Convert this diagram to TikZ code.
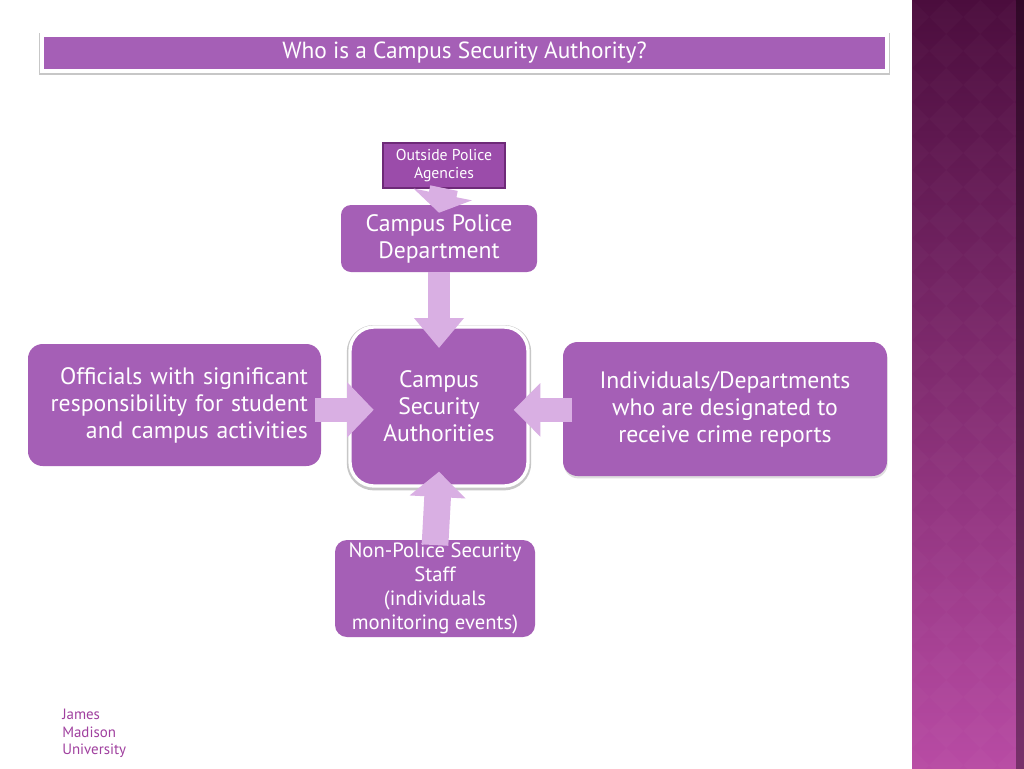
\documentclass[tikz,border=0pt]{standalone}
\usepackage{fontspec}
\setmainfont{PT Sans}
\usetikzlibrary{positioning}
\usetikzlibrary{shadows}
\usetikzlibrary{arrows.meta}
\definecolor{BoxPurple}{HTML}{A55FB6}
\definecolor{DarkPurple}{HTML}{9B4CAA}
\definecolor{EdgePurple}{HTML}{6E2A78}
\definecolor{ArrowLilac}{HTML}{D9AFE3}
\definecolor{PanelTop}{HTML}{4B0D3D}
\definecolor{PanelBottom}{HTML}{B84BA4}
\definecolor{LogoPurple}{HTML}{A0409F}
\tikzset{
	box/.style={fill=BoxPurple, text=white, align=center, inner sep=2pt,
		font=\fontsize{17.8}{20.25}\selectfont},
	halo/.style={preaction={draw=black!22, line width=4.8pt, transform canvas={yshift=-0.9pt}}},
	bigarrow/.style={ArrowLilac, line width=#1},
	bigarrow/.default=17pt
}

\begin{document}
\begin{tikzpicture}[x=0.75pt, y=-0.75pt]
	\useasboundingbox (0,0) rectangle (1024,768);
	\fill [white] (0,0) rectangle (1024,768);
	
	% side panel
	\shade [top color=PanelTop, bottom color=PanelBottom] (912,0) rectangle (1024,768);
	\begin{scope}
		\clip (912,0) rectangle (1016,768);
		\foreach \i in {0,...,3} {
			\foreach \j in {0,...,23} {
				\fill [white, opacity=0.018] (912+\i*34,\j*34) -- ++(17,17) -- ++(-17,17) -- ++(-17,-17) -- cycle;
			}
		}
	\end{scope}
	\shade [left color=PanelBottom!0!black, right color=black, opacity=0.35] (1016,0) rectangle (1024,768);
	
	% title
	\node [fill=BoxPurple, halo, draw=white, line width=2.5pt, text=white,
		minimum width=633.75pt, minimum height=27pt, font=\fontsize{17.5}{20}\selectfont]
		(title) at (464.5,53) {Who is a Campus Security Authority?};
	
	% boxes
	\node [fill=DarkPurple, draw=EdgePurple, line width=2.2pt, text=white, align=center,
		minimum width=91.5pt, minimum height=33.75pt, inner sep=1pt,
		font=\fontsize{11.8}{13.5}\selectfont]
		(outside) at (444,165.5) {Outside Police\\Agencies};
	\node [box, rounded corners=7.5pt, minimum width=147pt, minimum height=50.25pt]
		(police) at (439,238.5) {Campus Police\\Department};
	\node [box, halo, rounded corners=18pt, draw=white, line width=2.5pt,
		minimum width=133.5pt, minimum height=119.25pt]
		(csa) at (439,406.5) {Campus\\Security\\Authorities};
	\node [box, rounded corners=11pt, minimum width=219.75pt, minimum height=91.5pt,
		text width=200pt, align=right]
		(officials) at (174.5,405) {Officials with significant\\responsibility for student\\and campus activities};
	\node [box, rounded corners=11pt, drop shadow={opacity=0.25, shadow xshift=0.5pt, shadow yshift=-1.8pt},
		minimum width=243pt, minimum height=100.5pt]
		(designated) at (725,409) {Individuals/Departments\\who are designated to\\receive crime reports};
	\node [box, rounded corners=9pt, minimum width=150pt, minimum height=72.75pt,
		font=\fontsize{15.5}{18}\selectfont]
		(staff) at (435,588.5) {Non-Police Security\\Staff\\(individuals\\monitoring events)};
	
	% arrows
	\draw [bigarrow=21pt, -{Triangle[length=14pt, width=44pt]}]
		([yshift=1pt]outside.south) -- ([yshift=-6pt]police.north);
	\draw [bigarrow=16.5pt, -{Triangle[length=22.5pt, width=36pt]}]
		(police.south) -- ([yshift=-17pt]csa.north);
	\draw [bigarrow=18pt, -{Triangle[length=20pt, width=40.5pt]}]
		([xshift=-4.5pt,yshift=-2.5pt]officials.east |- csa.center) -- ([xshift=19pt,yshift=-2.5pt]csa.west);
	\draw [bigarrow=18pt, -{Triangle[length=20pt, width=39pt]}]
		([xshift=7pt,yshift=-2.5pt]designated.west |- csa.center) -- ([xshift=-12pt,yshift=-2.5pt]csa.east);
	\draw [bigarrow=20pt, -{Triangle[length=19pt, width=41pt]}]
		([yshift=-4pt]staff.north) -- ([yshift=12pt]csa.south);
	
	% university name
	\node [text=LogoPurple, align=left, anchor=north west, inner sep=0pt,
		font=\fontsize{11.2}{13}\selectfont]
		(jmu) at (62,709) {James\\Madison\\University};
\end{tikzpicture}
\end{document}
